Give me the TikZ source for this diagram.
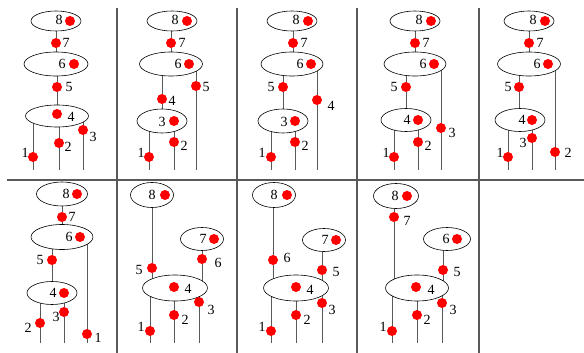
\documentclass[tikz,border=0pt]{standalone}
\usepackage{fontspec}
\setmainfont{Liberation Serif}
\usetikzlibrary{shapes.geometric,backgrounds}
\tikzset{
  blob/.style={ellipse, draw, fill=white, line width=0.6pt, inner sep=0pt},
  reddot/.style={circle, fill=red, inner sep=0pt, minimum size=10pt},
  num/.style={inner sep=0pt, font=\fontsize{14}{14}\selectfont},
  branch/.style={draw=black!65, line width=0.8pt},
  cellline/.style={draw=black!65, line width=1.2pt}
}
\begin{document}
\begin{tikzpicture}[x=1pt, y=-1pt]
\useasboundingbox (0,0) rectangle (584,353);
\draw[cellline] (117,8) -- (117,353);
\draw[cellline] (237,8) -- (237,353);
\draw[cellline] (357,8) -- (357,353);
\draw[cellline] (479,8) -- (479,353);
\draw[cellline] (7,180) -- (584,180);

\node[blob, minimum width=50pt, minimum height=20pt] (p1e8) at (56,21) {};
\node[num] (p1l8) at (59,20) {8};
\node[reddot] (p1c8) at (70,21) {};
\node[reddot] (p1d7) at (56,43) {};
\node[num] (p1l7) at (66,43) {7};
\node[blob, minimum width=64pt, minimum height=24pt] (p1e6) at (56,64) {};
\node[num] (p1l6) at (62,64) {6};
\node[reddot] (p1c6) at (74,64) {};
\node[reddot] (p1d5) at (57,87) {};
\node[num] (p1l5) at (69,87) {5};
\node[blob, minimum width=63pt, minimum height=22pt] (p1e4) at (57,116) {};
\node[reddot] (p1c4) at (57,114) {};
\node[num] (p1l4) at (71,117) {4};
\node[reddot] (p1d1) at (33,157) {};
\node[num] (p1l1) at (25,153) {1};
\node[reddot] (p1d2) at (59,143) {};
\node[num] (p1l2) at (68,147) {2};
\node[reddot] (p1d3) at (83,130) {};
\node[num] (p1l3) at (93,137) {3};
\coordinate (p1b1) at (33,170);
\coordinate (p1b2) at (59,170);
\coordinate (p1b3) at (83,170);

\node[blob, minimum width=50pt, minimum height=20pt] (p2e8) at (172,21) {};
\node[num] (p2l8) at (175,20) {8};
\node[reddot] (p2c8) at (187,21) {};
\node[reddot] (p2d7) at (171,43) {};
\node[num] (p2l7) at (182,43) {7};
\node[blob, minimum width=63pt, minimum height=24pt] (p2e6) at (171,64) {};
\node[num] (p2l6) at (178,64) {6};
\node[reddot] (p2c6) at (189,64) {};
\node[reddot] (p2d4) at (162,99) {};
\node[num] (p2l4) at (172,101) {4};
\node[reddot] (p2d5) at (196,86) {};
\node[num] (p2l5) at (206,87) {5};
\node[blob, minimum width=50pt, minimum height=24pt] (p2e3) at (162,121) {};
\node[num] (p2l3) at (162,122) {3};
\node[reddot] (p2c3) at (174,121) {};
\node[reddot] (p2d1) at (149,157) {};
\node[num] (p2l1) at (141,153) {1};
\node[reddot] (p2d2) at (174,142) {};
\node[num] (p2l2) at (184,146) {2};
\coordinate (p2b1) at (149,170);
\coordinate (p2b2) at (174,170);
\coordinate (p2b5) at (196,170);

\node[blob, minimum width=50pt, minimum height=20pt] (p3e8) at (292,21) {};
\node[num] (p3l8) at (296,20) {8};
\node[reddot] (p3c8) at (308,21) {};
\node[reddot] (p3d7) at (293,43) {};
\node[num] (p3l7) at (304,43) {7};
\node[blob, minimum width=62pt, minimum height=24pt] (p3e6) at (292,64) {};
\node[num] (p3l6) at (300,64) {6};
\node[reddot] (p3c6) at (311,64) {};
\node[reddot] (p3d5) at (283,87) {};
\node[num] (p3l5) at (271,87) {5};
\node[reddot] (p3d4) at (317,100) {};
\node[num] (p3l4) at (331,106) {4};
\node[blob, minimum width=50pt, minimum height=24pt] (p3e3) at (283,121) {};
\node[num] (p3l3) at (284,122) {3};
\node[reddot] (p3c3) at (295,121) {};
\node[reddot] (p3d1) at (271,157) {};
\node[num] (p3l1) at (262,153) {1};
\node[reddot] (p3d2) at (295,142) {};
\node[num] (p3l2) at (305,146) {2};
\coordinate (p3b1) at (271,170);
\coordinate (p3b2) at (295,170);
\coordinate (p3b4) at (317,170);

\node[blob, minimum width=50pt, minimum height=20pt] (p4e8) at (415,21) {};
\node[num] (p4l8) at (419,20) {8};
\node[reddot] (p4c8) at (431,21) {};
\node[reddot] (p4d7) at (415,43) {};
\node[num] (p4l7) at (426,43) {7};
\node[blob, minimum width=62pt, minimum height=24pt] (p4e6) at (415,64) {};
\node[num] (p4l6) at (423,64) {6};
\node[reddot] (p4c6) at (434,64) {};
\node[reddot] (p4d5) at (406,87) {};
\node[num] (p4l5) at (394,87) {5};
\node[reddot] (p4d3) at (441,128) {};
\node[num] (p4l3) at (452,133) {3};
\node[blob, minimum width=50pt, minimum height=23pt] (p4e4) at (406,120) {};
\node[num] (p4l4) at (407,120) {4};
\node[reddot] (p4c4) at (418,120) {};
\node[reddot] (p4d1) at (394,157) {};
\node[num] (p4l1) at (386,153) {1};
\node[reddot] (p4d2) at (418,142) {};
\node[num] (p4l2) at (428,146) {2};
\coordinate (p4b1) at (394,170);
\coordinate (p4b2) at (418,170);
\coordinate (p4b3) at (441,170);

\node[blob, minimum width=50pt, minimum height=20pt] (p5e8) at (529,21) {};
\node[num] (p5l8) at (533,20) {8};
\node[reddot] (p5c8) at (545,21) {};
\node[reddot] (p5d7) at (529,43) {};
\node[num] (p5l7) at (540,43) {7};
\node[blob, minimum width=63pt, minimum height=24pt] (p5e6) at (529,64) {};
\node[num] (p5l6) at (537,64) {6};
\node[reddot] (p5c6) at (548,64) {};
\node[reddot] (p5d5) at (519,87) {};
\node[num] (p5l5) at (508,87) {5};
\node[reddot] (p5d2) at (555,152) {};
\node[num] (p5l2) at (568,153) {2};
\node[blob, minimum width=50pt, minimum height=23pt] (p5e4) at (520,120) {};
\node[num] (p5l4) at (522,120) {4};
\node[reddot] (p5c4) at (532,120) {};
\node[reddot] (p5d1) at (508,157) {};
\node[num] (p5l1) at (500,153) {1};
\node[reddot] (p5d3) at (532,138) {};
\node[num] (p5l3) at (523,143) {3};
\coordinate (p5b1) at (508,170);
\coordinate (p5b3) at (532,170);
\coordinate (p5b2) at (555,170);

\node[blob, minimum width=51pt, minimum height=24pt] (p6e8) at (62,194) {};
\node[num] (p6l8) at (66,194) {8};
\node[reddot] (p6c8) at (77,194) {};
\node[reddot] (p6d7) at (62,217) {};
\node[num] (p6l7) at (72,217) {7};
\node[blob, minimum width=62pt, minimum height=25pt] (p6e6) at (62,237) {};
\node[num] (p6l6) at (69,237) {6};
\node[reddot] (p6c6) at (80,237) {};
\node[reddot] (p6d5) at (52,260) {};
\node[num] (p6l5) at (40,260) {5};
\node[reddot] (p6d1) at (87,334) {};
\node[num] (p6l1) at (98,338) {1};
\node[blob, minimum width=50pt, minimum height=23pt] (p6e4) at (52,293) {};
\node[num] (p6l4) at (53,293) {4};
\node[reddot] (p6c4) at (64,293) {};
\node[reddot] (p6d2) at (40,323) {};
\node[num] (p6l2) at (28,328) {2};
\node[reddot] (p6d3) at (64,312) {};
\node[num] (p6l3) at (56,317) {3};
\coordinate (p6b2) at (40,343);
\coordinate (p6b3) at (64,343);
\coordinate (p6b1) at (87,343);

\node[blob, minimum width=43pt, minimum height=25pt] (p7e8) at (152,195) {};
\node[num] (p7l8) at (152,195) {8};
\node[reddot] (p7c8) at (165,195) {};
\node[reddot] (p7d5) at (152,268) {};
\node[num] (p7l5) at (139,270) {5};
\node[blob, minimum width=43pt, minimum height=23pt] (p7e7) at (202,239) {};
\node[num] (p7l7) at (203,239) {7};
\node[reddot] (p7c7) at (214,239) {};
\node[reddot] (p7d6) at (202,259) {};
\node[num] (p7l6) at (218,263) {6};
\node[blob, minimum width=65pt, minimum height=26pt] (p7e4) at (175,288) {};
\node[reddot] (p7c4) at (174,287) {};
\node[num] (p7l4) at (188,289) {4};
\node[reddot] (p7d1) at (150,331) {};
\node[num] (p7l1) at (141,327) {1};
\node[reddot] (p7d2) at (174,315) {};
\node[num] (p7l2) at (185,320) {2};
\node[reddot] (p7d3) at (199,302) {};
\node[num] (p7l3) at (211,310) {3};
\coordinate (p7b1) at (150,343);
\coordinate (p7b2) at (174,343);
\coordinate (p7b3) at (199,343);

\node[blob, minimum width=43pt, minimum height=25pt] (p8e8) at (274,195) {};
\node[num] (p8l8) at (274,195) {8};
\node[reddot] (p8c8) at (287,195) {};
\node[reddot] (p8d6) at (273,260) {};
\node[num] (p8l6) at (287,258) {6};
\node[blob, minimum width=43pt, minimum height=23pt] (p8e7) at (324,240) {};
\node[num] (p8l7) at (325,240) {7};
\node[reddot] (p8c7) at (336,240) {};
\node[reddot] (p8d5) at (322,270) {};
\node[num] (p8l5) at (336,272) {5};
\node[blob, minimum width=65pt, minimum height=26pt] (p8e4) at (296,288) {};
\node[reddot] (p8c4) at (296,287) {};
\node[num] (p8l4) at (310,290) {4};
\node[reddot] (p8d1) at (271,331) {};
\node[num] (p8l1) at (262,327) {1};
\node[reddot] (p8d2) at (296,315) {};
\node[num] (p8l2) at (307,320) {2};
\node[reddot] (p8d3) at (322,303) {};
\node[num] (p8l3) at (332,310) {3};
\coordinate (p8b1) at (271,343);
\coordinate (p8b2) at (296,343);
\coordinate (p8b3) at (322,343);

\node[blob, minimum width=45pt, minimum height=25pt] (p9e8) at (396,196) {};
\node[num] (p9l8) at (395,196) {8};
\node[reddot] (p9c8) at (407,196) {};
\node[reddot] (p9d7) at (394,217) {};
\node[num] (p9l7) at (407,221) {7};
\node[blob, minimum width=47pt, minimum height=23pt] (p9e6) at (447,239) {};
\node[num] (p9l6) at (446,239) {6};
\node[reddot] (p9c6) at (457,239) {};
\node[reddot] (p9d5) at (443,270) {};
\node[num] (p9l5) at (457,272) {5};
\node[blob, minimum width=63pt, minimum height=26pt] (p9e4) at (417,288) {};
\node[reddot] (p9c4) at (416,287) {};
\node[num] (p9l4) at (431,290) {4};
\node[reddot] (p9d1) at (392,331) {};
\node[num] (p9l1) at (383,327) {1};
\node[reddot] (p9d2) at (417,315) {};
\node[num] (p9l2) at (427,320) {2};
\node[reddot] (p9d3) at (442,303) {};
\node[num] (p9l3) at (453,310) {3};
\coordinate (p9b1) at (392,343);
\coordinate (p9b2) at (417,343);
\coordinate (p9b3) at (442,343);

\begin{scope}[on background layer]
\draw[branch] (p1d7 |- p1e8) -- (p1d7) -- (p1d7 |- p1e6);
\draw[branch] (p1d5 |- p1e6) -- (p1d5) -- (p1d5 |- p1e4);
\draw[branch] (p1d1 |- p1e4) -- (p1b1);
\draw[branch] (p1d2 |- p1e4) -- (p1b2);
\draw[branch] (p1d3 |- p1e4) -- (p1b3);

\draw[branch] (p2d7 |- p2e8) -- (p2d7) -- (p2d7 |- p2e6);
\draw[branch] (p2d4 |- p2e6) -- (p2d4) -- (p2d4 |- p2e3);
\draw[branch] (p2d5 |- p2e6) -- (p2b5);
\draw[branch] (p2d1 |- p2e3) -- (p2b1);
\draw[branch] (p2d2 |- p2e3) -- (p2b2);

\draw[branch] (p3d7 |- p3e8) -- (p3d7) -- (p3d7 |- p3e6);
\draw[branch] (p3d5 |- p3e6) -- (p3d5) -- (p3d5 |- p3e3);
\draw[branch] (p3d4 |- p3e6) -- (p3b4);
\draw[branch] (p3d1 |- p3e3) -- (p3b1);
\draw[branch] (p3d2 |- p3e3) -- (p3b2);

\draw[branch] (p4d7 |- p4e8) -- (p4d7) -- (p4d7 |- p4e6);
\draw[branch] (p4d5 |- p4e6) -- (p4d5) -- (p4d5 |- p4e4);
\draw[branch] (p4d3 |- p4e6) -- (p4b3);
\draw[branch] (p4d1 |- p4e4) -- (p4b1);
\draw[branch] (p4d2 |- p4e4) -- (p4b2);

\draw[branch] (p5d7 |- p5e8) -- (p5d7) -- (p5d7 |- p5e6);
\draw[branch] (p5d5 |- p5e6) -- (p5d5) -- (p5d5 |- p5e4);
\draw[branch] (p5d2 |- p5e6) -- (p5b2);
\draw[branch] (p5d1 |- p5e4) -- (p5b1);
\draw[branch] (p5d3 |- p5e4) -- (p5b3);

\draw[branch] (p6d7 |- p6e8) -- (p6d7) -- (p6d7 |- p6e6);
\draw[branch] (p6d5 |- p6e6) -- (p6d5) -- (p6d5 |- p6e4);
\draw[branch] (p6d1 |- p6e6) -- (p6b1);
\draw[branch] (p6d2 |- p6e4) -- (p6b2);
\draw[branch] (p6d3 |- p6e4) -- (p6b3);

\draw[branch] (p7d5 |- p7e8) -- (p7d5) -- (p7d5 |- p7e4);
\draw[branch] (p7d6 |- p7e7) -- (p7d6) -- (p7d6 |- p7e4);
\draw[branch] (p7d1 |- p7e4) -- (p7b1);
\draw[branch] (p7d2 |- p7e4) -- (p7b2);
\draw[branch] (p7d3 |- p7e4) -- (p7b3);

\draw[branch] (p8d6 |- p8e8) -- (p8d6) -- (p8d6 |- p8e4);
\draw[branch] (p8d5 |- p8e7) -- (p8d5) -- (p8d5 |- p8e4);
\draw[branch] (p8d1 |- p8e4) -- (p8b1);
\draw[branch] (p8d2 |- p8e4) -- (p8b2);
\draw[branch] (p8d3 |- p8e4) -- (p8b3);

\draw[branch] (p9d7 |- p9e8) -- (p9d7) -- (p9d7 |- p9e4);
\draw[branch] (p9d5 |- p9e6) -- (p9d5) -- (p9d5 |- p9e4);
\draw[branch] (p9d1 |- p9e4) -- (p9b1);
\draw[branch] (p9d2 |- p9e4) -- (p9b2);
\draw[branch] (p9d3 |- p9e4) -- (p9b3);
\end{scope}
\end{tikzpicture}
\end{document}
